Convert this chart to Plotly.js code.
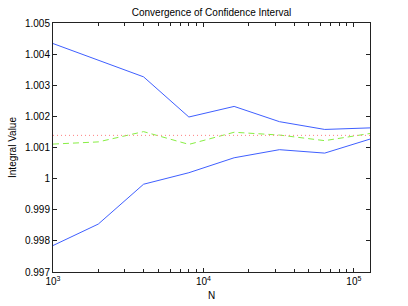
<!DOCTYPE html>
<html>
<head>
<meta charset="utf-8">
<script src="https://cdn.plot.ly/plotly-3.0.1.min.js"></script>
<style>html,body{margin:0;padding:0;background:#fff}#chart{width:408px;height:306px}</style>
</head>
<body>
<div id="chart"></div>
<script>
// Sample sizes
var N = [1000, 2000, 4000, 8000, 16000, 32000, 64000, 128000];
// Upper and lower confidence bounds
var upperBound = [1.00434, 1.00380, 1.00327, 1.00198, 1.00232, 1.00183, 1.00158, 1.00163];
var lowerBound = [0.99785, 0.99854, 0.99982, 1.00019, 1.00067, 1.00093, 1.00082, 1.00127];
// Estimate (midpoint)
var estimate = [1.00111, 1.00118, 1.00151, 1.00110, 1.00149, 1.00140, 1.00122, 1.00145];
// Reference value (dotted line)
var referenceValue = 1.00139;

// Tick labels
var yTickVals = [0.997, 0.998, 0.999, 1.000, 1.001, 1.002, 1.003, 1.004, 1.005];
var yTickText = ['0.997', '0.998', '0.999', '1', '1.001', '1.002', '1.003', '1.004', '1.005'];
var xMajorVals = [1000, 10000, 100000];
var xMajorText = ['10<sup>3</sup>', '10<sup>4</sup>', '10<sup>5</sup>'];
var xMinorVals = [2000, 3000, 4000, 5000, 6000, 7000, 8000, 9000,
                  20000, 30000, 40000, 50000, 60000, 70000, 80000, 90000];

var font = 'Liberation Sans, Arial, Helvetica, sans-serif';

var traces = [
  {x: N, y: upperBound, mode: 'lines', line: {color: '#3f5fff', width: 1}, showlegend: false, hoverinfo: 'skip'},
  {x: N, y: lowerBound, mode: 'lines', line: {color: '#3f5fff', width: 1}, showlegend: false, hoverinfo: 'skip'},
  {x: N, y: estimate, mode: 'lines', line: {color: '#88ee44', width: 1, dash: '6px,4px'}, showlegend: false, hoverinfo: 'skip'},
  {x: [N[0], N[N.length - 1]], y: [referenceValue, referenceValue], mode: 'lines', line: {color: '#ff8080', width: 1, dash: '1px,3px'}, showlegend: false, hoverinfo: 'skip'}
];

var layout = {
  width: 408, height: 306,
  margin: {l: 53, r: 38, t: 23, b: 34, pad: 0},
  paper_bgcolor: '#fff', plot_bgcolor: '#fff',
  font: {family: font, size: 9, color: '#000'},
  title: {text: 'Convergence of Confidence Interval', font: {family: font, size: 10, color: '#000'},
          x: 0.5, xref: 'paper', y: 1 - 12 / 306, yref: 'container', yanchor: 'middle'},
  xaxis: {
    type: 'log', range: [3, Math.log10(128000)],
    tickmode: 'array', tickvals: xMajorVals, ticktext: xMajorText,
    ticks: 'inside', ticklen: 4, tickcolor: '#222', tickwidth: 1,
    minor: {tickmode: 'array', tickvals: xMinorVals, ticks: 'inside', ticklen: 3, tickcolor: '#222', tickwidth: 1, showgrid: false},
    showgrid: false, zeroline: false,
    showline: true, linecolor: '#222', linewidth: 1, mirror: 'ticks',
    tickfont: {family: font, size: 10, color: '#000'},
    title: {text: 'N', font: {family: font, size: 10, color: '#000'}, standoff: 5}
  },
  yaxis: {
    range: [0.997, 1.005],
    tickmode: 'array', tickvals: yTickVals, ticktext: yTickText,
    ticks: 'inside', ticklen: 4, tickcolor: '#222', tickwidth: 1,
    showgrid: false, zeroline: false,
    showline: true, linecolor: '#222', linewidth: 1, mirror: 'ticks',
    tickfont: {family: font, size: 10, color: '#000'},
    title: {text: 'Integral Value', font: {family: font, size: 10, color: '#000'}, standoff: 6}
  }
};

Plotly.newPlot('chart', traces, layout, {displayModeBar: false, staticPlot: true});
</script>
</body>
</html>
